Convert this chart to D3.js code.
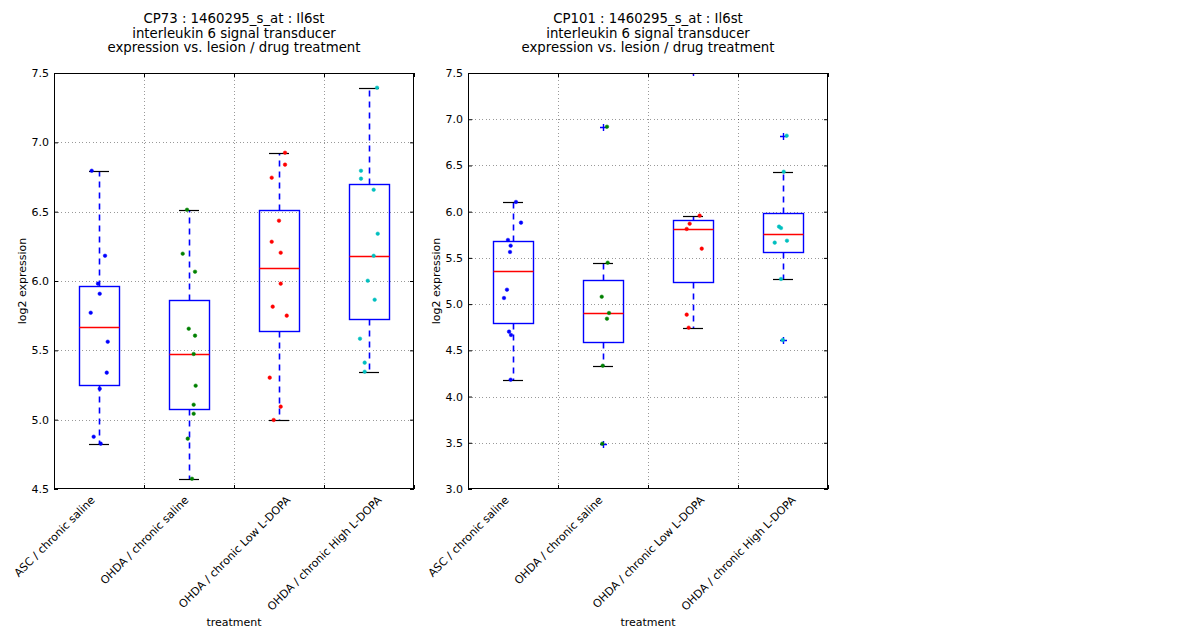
<!DOCTYPE html>
<html>
<head>
<meta charset="utf-8">
<script src="https://cdn.jsdelivr.net/npm/d3@7"></script>
<style>
  body { margin: 0; background: #fff; }
  text { font-family: "DejaVu Sans", sans-serif; fill: #000; }
</style>
</head>
<body>
<div class="container"></div>
<script>
// data
const treatments = [
  "ASC / chronic saline",
  "OHDA / chronic saline",
  "OHDA / chronic Low L-DOPA",
  "OHDA / chronic High L-DOPA"]

// the tick labels sit on the half positions, not on the boxes
const xTickPos = [0.5, 1.5, 2.5, 3.5, 4.5]

const pointColors = ["#0000ff", "#008000", "#ff0000", "#00bfbf"]

const cp73Title = ["CP73 : 1460295_s_at : Il6st", "interleukin 6 signal transducer", "expression vs. lesion / drug treatment"]
const cp73Ticks = [4.5, 5.0, 5.5, 6.0, 6.5, 7.0, 7.5]
const cp73Values = [
  [6.795, 6.182, 5.981, 5.908, 5.771, 5.562, 5.339, 5.223, 4.877, 4.827],
  [6.514, 6.197, 6.067, 5.656, 5.606, 5.474, 5.245, 5.108, 5.043, 4.863, 4.574],
  [6.925, 6.839, 6.745, 6.435, 6.283, 6.204, 5.981, 5.815, 5.750, 5.303, 5.094, 4.998],
  [7.394, 6.795, 6.738, 6.658, 6.341, 6.182, 6.002, 5.865, 5.584, 5.411, 5.346]]
// horizontal jitter of each dot, in category units
const cp73Jitter = [
  [-0.081, 0.067, -0.011, 0.008, -0.092, 0.097, 0.086, 0.008, -0.059, 0.019],
  [-0.022, -0.070, 0.067, -0.003, 0.067, 0.052, 0.074, 0.052, 0.052, -0.014, 0.033],
  [0.067, 0.067, -0.081, 0.000, -0.081, 0.019, 0.019, -0.070, 0.086, -0.103, 0.019, -0.059],
  [0.089, -0.089, -0.089, 0.052, 0.097, 0.052, -0.014, 0.063, -0.100, -0.048, -0.048]]

const cp101Title = ["CP101 : 1460295_s_at : Il6st", "interleukin 6 signal transducer", "expression vs. lesion / drug treatment"]
const cp101Ticks = [3.0, 3.5, 4.0, 4.5, 5.0, 5.5, 6.0, 6.5, 7.0, 7.5]
const cp101Values = [
  [6.105, 5.881, 5.694, 5.632, 5.564, 5.156, 5.066, 4.702, 4.666, 4.182],
  [6.919, 5.448, 5.080, 4.904, 4.842, 4.334, 3.490],
  [7.508, 5.957, 5.870, 5.813, 5.600, 4.886, 4.745],
  [6.822, 6.432, 5.838, 5.823, 5.665, 5.686, 5.272, 4.612]]
const cp101Jitter = [
  [0.033, 0.089, -0.056, -0.026, -0.033, -0.067, -0.100, -0.044, -0.022, -0.026],
  [0.044, 0.052, -0.014, 0.067, 0.044, -0.003, -0.008],
  [-0.003, 0.074, -0.037, -0.070, 0.097, -0.070, -0.048],
  [0.041, 0.008, -0.044, -0.022, -0.092, 0.044, -0.022, -0.003]]

// layout
const w = 1200
const h = 640
const plotTop = 73
const plotBottom = 489
const plotW = 360
const boxWidth = 0.45
const fontSize = 11
const lineW = 1.4

const panels = [
  {left: 54, title: cp73Title, ticks: cp73Ticks, values: cp73Values, jitter: cp73Jitter},
  {left: 468, title: cp101Title, ticks: cp101Ticks, values: cp101Values, jitter: cp101Jitter}]

// snap lines onto the pixel grid so they stay sharp
const snap = v => Math.round(v) + 0.5

// matplotlib style box stats (linear quantiles, 1.5 IQR whiskers)
const boxStats = vals => {
  const s = vals.slice().sort(d3.ascending)
  const q1 = d3.quantileSorted(s, 0.25)
  const med = d3.quantileSorted(s, 0.5)
  const q3 = d3.quantileSorted(s, 0.75)
  const iqr = q3 - q1
  const inside = s.filter(v => v >= q1 - 1.5 * iqr && v <= q3 + 1.5 * iqr)
  return {
    q1, med, q3,
    lo: d3.min(inside),
    hi: d3.max(inside),
    fliers: s.filter(v => v < q1 - 1.5 * iqr || v > q3 + 1.5 * iqr)
  }
}

const svg = d3.select('.container')
  .append('svg')
  .attr('width', w)
  .attr('height', h)

panels.forEach((p, pi) => {
  const xScale = d3.scaleLinear()
    .domain([0.5, treatments.length + 0.5])
    .range([p.left, p.left + plotW])

  const yScale = d3.scaleLinear()
    .domain(d3.extent(p.ticks))
    .range([plotBottom, plotTop])

  const g = svg.append('g').attr('class', 'panel')

  svg.append('clipPath')
    .attr('id', 'clip' + pi)
    .append('rect')
    .attr('x', p.left)
    .attr('y', plotTop)
    .attr('width', plotW)
    .attr('height', plotBottom - plotTop)

  // title
  g.append('text')
    .attr('text-anchor', 'middle')
    .style('font-size', '13.3px')
    .selectAll('tspan')
    .data(p.title)
    .enter()
    .append('tspan')
    .attr('x', p.left + plotW / 2)
    .attr('y', (d, i) => 23 + i * 14.5)
    .text(d => d)

  // grid
  const grid = g.append('g')
    .attr('stroke', '#000')
    .attr('stroke-opacity', 0.5)
    .attr('stroke-width', 0.8)
    .attr('stroke-dasharray', '1,2.5')
    .attr('shape-rendering', 'crispEdges')

  grid.selectAll('.hgrid')
    .data(p.ticks.slice(1, -1))
    .enter()
    .append('line')
    .attr('x1', p.left)
    .attr('x2', p.left + plotW)
    .attr('y1', d => snap(yScale(d)))
    .attr('y2', d => snap(yScale(d)))

  grid.selectAll('.vgrid')
    .data(xTickPos.slice(1, -1))
    .enter()
    .append('line')
    .attr('x1', d => snap(xScale(d)))
    .attr('x2', d => snap(xScale(d)))
    .attr('y1', plotTop)
    .attr('y2', plotBottom)

  // boxes
  const plotArea = g.append('g').attr('clip-path', 'url(#clip' + pi + ')')

  p.values.forEach((vals, i) => {
    const st = boxStats(vals)
    const c = i + 1
    const cx = snap(xScale(c))
    const bx = plotArea.append('g').attr('class', 'box')

    // whiskers
    bx.selectAll('.whisker')
      .data([[st.q3, st.hi], [st.q1, st.lo]])
      .enter()
      .append('line')
      .attr('x1', cx)
      .attr('x2', cx)
      .attr('y1', d => snap(yScale(d[0])))
      .attr('y2', d => snap(yScale(d[1])))
      .attr('stroke', '#0000ff')
      .attr('stroke-width', 1.6)
      .attr('stroke-dasharray', '6,5')

    // caps
    bx.selectAll('.cap')
      .data([st.hi, st.lo])
      .enter()
      .append('line')
      .attr('x1', Math.round(xScale(c - boxWidth / 4)))
      .attr('x2', Math.round(xScale(c + boxWidth / 4)))
      .attr('y1', d => snap(yScale(d)))
      .attr('y2', d => snap(yScale(d)))
      .attr('stroke', '#000')
      .attr('stroke-width', 1.2)

    const x0 = snap(xScale(c - boxWidth / 2))
    const x1 = snap(xScale(c + boxWidth / 2))
    bx.append('rect')
      .attr('x', x0)
      .attr('y', snap(yScale(st.q3)))
      .attr('width', x1 - x0)
      .attr('height', snap(yScale(st.q1)) - snap(yScale(st.q3)))
      .attr('fill', 'none')
      .attr('stroke', '#0000ff')
      .attr('stroke-width', lineW)

    bx.append('line')
      .attr('x1', x0)
      .attr('x2', x1)
      .attr('y1', snap(yScale(st.med)))
      .attr('y2', snap(yScale(st.med)))
      .attr('stroke', '#ff0000')
      .attr('stroke-width', lineW)

    // fliers as '+'
    bx.selectAll('.flier')
      .data(st.fliers)
      .enter()
      .append('path')
      .attr('d', d => {
        const y = snap(yScale(d))
        return `M${cx - 3.5},${y}H${cx + 3.5}M${cx},${y - 3.5}V${y + 3.5}`
      })
      .attr('stroke', '#0000ff')
      .attr('stroke-width', lineW)
  })

  // jittered points
  p.values.forEach((vals, i) => {
    plotArea.append('g')
      .selectAll('circle')
      .data(vals.map((v, j) => ({v, j: p.jitter[i][j]})))
      .enter()
      .append('circle')
      .attr('cx', d => xScale(i + 1 + d.j))
      .attr('cy', d => yScale(d.v))
      .attr('r', 1.8)
      .attr('fill', pointColors[i])
      .attr('stroke', pointColors[i])
      .attr('stroke-width', 0.5)
  })

  // frame
  g.append('rect')
    .attr('x', p.left + 0.5)
    .attr('y', plotTop + 0.5)
    .attr('width', plotW - 1)
    .attr('height', plotBottom - plotTop - 1)
    .attr('fill', 'none')
    .attr('stroke', '#000')
    .attr('stroke-width', 1)
    .attr('shape-rendering', 'crispEdges')

  // axes, ticks pointing inward
  const yAxis = d3.axisLeft(yScale)
    .tickValues(p.ticks)
    .tickFormat(d3.format('.1f'))
    .tickSizeInner(-4)
    .tickSizeOuter(0)
    .tickPadding(5)

  const yAxisG = g.append('g')
    .attr('transform', 'translate(' + p.left + ',0)')
    .call(yAxis)
  yAxisG.select('.domain').remove()
  yAxisG.selectAll('text').style('font-size', fontSize + 'px').attr('font-family', null)

  const yAxisR = g.append('g')
    .attr('transform', 'translate(' + (p.left + plotW) + ',0)')
    .call(d3.axisRight(yScale).tickValues(p.ticks).tickFormat('').tickSizeInner(-4).tickSizeOuter(0))
  yAxisR.select('.domain').remove()

  const xAxis = d3.axisBottom(xScale)
    .tickValues(xTickPos)
    .tickFormat((d, i) => treatments[i] || '')
    .tickSizeInner(-4)
    .tickSizeOuter(0)

  const xAxisG = g.append('g')
    .attr('transform', 'translate(0,' + plotBottom + ')')
    .call(xAxis)
  xAxisG.select('.domain').remove()

  // rotated labels, bounding box centred on the tick (matplotlib ha='center')
  xAxisG.selectAll('text')
    .attr('font-family', null)
    .style('font-size', fontSize + 'px')
    .attr('text-anchor', 'middle')
    .attr('x', 0)
    .attr('y', 0)
    .attr('dy', null)
    .attr('transform', function () {
      const L = this.getComputedTextLength()
      const dx = 0.244 * fontSize
      const dy = 6 + 0.707 * (0.73 * fontSize + L / 2)
      return 'translate(' + dx + ',' + dy + ') rotate(-45)'
    })

  const xAxisT = g.append('g')
    .attr('transform', 'translate(0,' + plotTop + ')')
    .call(d3.axisTop(xScale).tickValues(xTickPos).tickFormat('').tickSizeInner(-4).tickSizeOuter(0))
  xAxisT.select('.domain').remove()

  // axis labels
  g.append('text')
    .attr('text-anchor', 'middle')
    .style('font-size', fontSize + 'px')
    .attr('x', p.left + plotW / 2)
    .attr('y', 626)
    .text('treatment')

  g.append('text')
    .attr('text-anchor', 'middle')
    .style('font-size', fontSize + 'px')
    .attr('transform', 'translate(' + (p.left - 28) + ',' + (plotTop + plotBottom) / 2 + ') rotate(-90)')
    .text('log2 expression')
})
</script>
</body>
</html>
